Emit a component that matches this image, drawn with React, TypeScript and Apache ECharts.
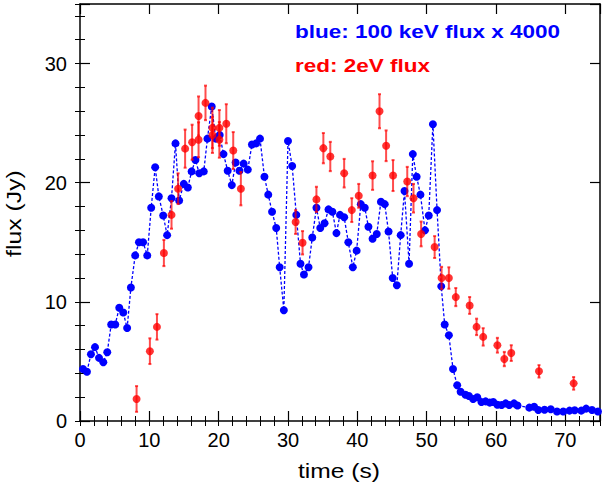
import React, { useEffect, useRef } from "react";
import * as echarts from "echarts";

const blueTime = [0.43, 1.0, 1.58, 2.16, 2.74, 3.36, 3.93, 4.5, 5.08, 5.66, 6.24, 6.8, 7.34, 7.96, 8.5, 9.1, 9.7, 10.27, 10.84, 11.37, 12.0, 12.57, 13.2, 13.77, 14.3, 14.97, 15.55, 16.1, 16.65, 17.2, 17.85, 18.38, 19.0, 19.58, 20.15, 20.7, 21.3, 21.9, 22.45, 23.0, 23.6, 24.2, 24.8, 25.4, 25.96, 26.6, 27.15, 27.7, 28.3, 28.8, 29.4, 30.0, 30.6, 31.2, 31.8, 32.3, 32.96, 33.5, 34.1, 34.65, 35.27, 35.84, 36.4, 36.99, 37.5, 38.1, 38.7, 39.35, 39.9, 40.5, 41.07, 41.6, 42.2, 42.8, 43.4, 43.95, 44.5, 45.1, 45.7, 46.25, 46.8, 47.46, 48.0, 48.55, 49.1, 49.76, 50.3, 50.9, 51.5, 52.1, 52.6, 53.2, 53.8, 54.4, 54.9, 55.6, 56.1, 56.7, 57.3, 57.9, 58.5, 59.1, 59.6, 60.2, 60.8, 61.4, 61.9, 62.6, 63.1, 64.8, 65.5, 66.1, 67.0, 67.9, 68.8, 69.7, 70.6, 71.35, 72.3, 73.0, 73.85, 74.7];
const blueFlux = [4.37, 4.14, 5.6, 6.2, 5.3, 4.93, 5.77, 8.1, 8.1, 9.5, 9.1, 7.8, 11.2, 13.9, 15.0, 15.0, 13.9, 17.9, 21.3, 18.85, 17.25, 15.6, 18.7, 23.3, 18.5, 19.9, 19.6, 20.95, 21.9, 20.8, 20.95, 23.7, 26.4, 23.7, 24.0, 22.4, 21.0, 19.8, 21.7, 21.0, 21.6, 21.1, 23.2, 23.3, 23.7, 20.5, 19.0, 17.56, 16.2, 12.9, 9.3, 23.5, 21.4, 17.3, 13.2, 12.3, 12.9, 15.4, 17.9, 16.2, 16.6, 17.76, 17.56, 15.77, 17.3, 17.1, 15.0, 12.9, 14.3, 18.2, 17.9, 16.3, 15.3, 15.7, 18.4, 18.2, 15.9, 12.0, 11.4, 15.6, 19.3, 13.2, 22.4, 20.5, 19.0, 16.0, 17.25, 24.9, 17.7, 11.3, 8.1, 7.2, 4.37, 3.0, 2.46, 2.2, 2.1, 1.85, 2.0, 1.6, 1.65, 1.54, 1.6, 1.37, 1.34, 1.48, 1.34, 1.48, 1.3, 1.12, 1.2, 0.92, 0.95, 0.98, 0.8, 0.8, 0.87, 0.9, 0.87, 1.04, 0.92, 0.8];

const redTime = [8.16, 10.08, 11.1, 12.1, 13.2, 14.15, 15.16, 16.17, 17.1, 17.1, 18.1, 19.1, 19.1, 20.1, 20.1, 21.1, 22.1, 23.2, 31.1, 32.1, 34.1, 35.1, 36.1, 38.1, 39.2, 40.2, 42.2, 43.2, 44.15, 45.15, 47.2, 48.1, 49.2, 51.15, 52.15, 53.2, 54.2, 56.2, 57.2, 58.15, 60.2, 61.2, 62.2, 66.2, 71.2];
const redFlux = [1.85, 5.86, 7.9, 14.1, 17.3, 19.5, 22.86, 23.4, 25.6, 23.6, 26.7, 24.6, 24.0, 24.6, 23.6, 24.95, 22.7, 19.5, 16.7, 14.96, 18.6, 22.9, 22.2, 20.8, 17.7, 18.9, 20.6, 26.0, 23.1, 20.6, 20.1, 18.7, 15.7, 14.6, 12.0, 12.0, 10.4, 9.7, 7.9, 7.06, 6.36, 5.2, 5.7, 4.17, 3.16];
const redErr = [1.08, 1.08, 1.07, 1.1, 1.16, 1.29, 1.6, 1.47, 1.64, 1.47, 1.45, 1.7, 1.5, 1.5, 1.5, 1.64, 1.55, 1.4, 1.0, 0.98, 1.06, 1.27, 1.23, 1.2, 1.0, 1.0, 1.2, 1.43, 1.29, 1.3, 1.23, 1.2, 1.04, 0.92, 0.94, 0.9, 0.76, 0.71, 0.69, 0.73, 0.62, 0.6, 0.66, 0.52, 0.53];

const xMax = 75;
const yMax = 35;
const majorStep = 10;
const minorStep = 2;
const legendBlue = "blue: 100 keV flux x 4000";
const legendRed = "red: 2eV flux";
const xName = "time (s)";
const yName = "flux (Jy)";

const FONT = '"Liberation Sans", Arial, Helvetica, sans-serif';

export default function App() {
  const ref = useRef<HTMLDivElement>(null);
  useEffect(() => {
    document.body.style.margin = "0";
    const chart = echarts.init(ref.current!, null, { renderer: "svg" });
    const blueData = blueTime.map((t, i) => [t, blueFlux[i]]);
    const redData = redTime.map((t, i) => [t, redFlux[i]]);
    const errData = redTime.map((t, i) => [t, redFlux[i] - redErr[i], redFlux[i] + redErr[i]]);

    const lab = (v: number) => (v % majorStep === 0 ? String(v) : "");
    const majorX = (pos: string, labels: boolean) => ({
      type: "value", gridIndex: 0, position: pos, min: 0, max: xMax, interval: majorStep,
      axisLine: { show: true, onZero: false, lineStyle: { color: "#000", width: 1.5 } },
      axisTick: { show: true, inside: true, length: 10, lineStyle: { color: "#000", width: 1.2 } },
      axisLabel: { show: labels, formatter: lab, color: "#000", fontSize: 20, fontFamily: FONT, margin: 9 },
      splitLine: { show: false },
    });
    const minorX = (pos: string) => ({
      type: "value", gridIndex: 0, position: pos, min: 0, max: xMax, interval: minorStep,
      axisLine: { show: false },
      axisTick: { show: true, inside: true, length: 5, lineStyle: { color: "#000", width: 1 } },
      axisLabel: { show: false }, splitLine: { show: false },
    });
    const majorY = (pos: string, labels: boolean) => ({
      type: "value", gridIndex: 0, position: pos, min: 0, max: yMax, interval: majorStep,
      axisLine: { show: true, onZero: false, lineStyle: { color: "#000", width: 1.5 } },
      axisTick: { show: true, inside: true, length: 10, lineStyle: { color: "#000", width: 1.2 } },
      axisLabel: { show: labels, formatter: lab, color: "#000", fontSize: 20, fontFamily: FONT, margin: 13 },
      splitLine: { show: false },
    });
    const minorY = (pos: string) => ({
      type: "value", gridIndex: 0, position: pos, min: 0, max: yMax, interval: minorStep,
      axisLine: { show: false },
      axisTick: { show: true, inside: true, length: 5, lineStyle: { color: "#000", width: 1 } },
      axisLabel: { show: false }, splitLine: { show: false },
    });

    chart.setOption({
      animation: false,
      backgroundColor: "#fff",
      grid: { left: 80, right: 2, top: 4, bottom: 65, containLabel: false },
      xAxis: [majorX("bottom", true), minorX("bottom"), majorX("top", false), minorX("top")],
      yAxis: [majorY("left", true), minorY("left"), majorY("right", false), minorY("right")],
      graphic: [
        { type: "text", x: 295, y: 32, scaleX: 1.25, style: { text: legendBlue, fill: "#0000ff", fontSize: 18, fontWeight: "bold", fontFamily: FONT, align: "left", verticalAlign: "middle" } },
        { type: "text", x: 295, y: 65.5, scaleX: 1.25, style: { text: legendRed, fill: "#ff0000", fontSize: 18, fontWeight: "bold", fontFamily: FONT, align: "left", verticalAlign: "middle" } },
        { type: "text", x: 339, y: 471, scaleX: 1.23, style: { text: xName, fill: "#000", fontSize: 20, fontFamily: FONT, align: "center", verticalAlign: "middle" } },
        { type: "text", x: 14.5, y: 213.5, rotation: Math.PI / 2, scaleX: 1.24, style: { text: yName, fill: "#000", fontSize: 20, fontFamily: FONT, align: "center", verticalAlign: "middle" } },
      ],
      series: [
        {
          type: "line", xAxisIndex: 0, yAxisIndex: 0, data: blueData,
          symbol: "circle", symbolSize: 8,
          itemStyle: { color: "#0000ff" },
          lineStyle: { color: "#0000ff", width: 1.3, type: [3, 2] },
          z: 2,
        },
        {
          type: "custom", xAxisIndex: 0, yAxisIndex: 0, data: errData, z: 3,
          renderItem: (params: any, api: any) => {
            const x = api.value(0);
            const lo = api.coord([x, api.value(1)]);
            const hi = api.coord([x, api.value(2)]);
            const st = { stroke: "rgba(255,0,0,0.7)", lineWidth: 2 };
            return {
              type: "group",
              children: [
                { type: "line", shape: { x1: lo[0], y1: lo[1], x2: hi[0], y2: hi[1] }, style: st },
                { type: "line", shape: { x1: lo[0] - 1.5, y1: lo[1], x2: lo[0] + 1.5, y2: lo[1] }, style: st },
                { type: "line", shape: { x1: hi[0] - 1.5, y1: hi[1], x2: hi[0] + 1.5, y2: hi[1] }, style: st },
              ],
            };
          },
        },
        {
          type: "scatter", xAxisIndex: 0, yAxisIndex: 0, data: redData,
          symbol: "circle", symbolSize: 8, itemStyle: { color: "#ff0000" }, z: 4,
        },
      ],
    });
    return () => chart.dispose();
  }, []);
  return <div ref={ref} style={{ width: 603, height: 486 }} />;
}
